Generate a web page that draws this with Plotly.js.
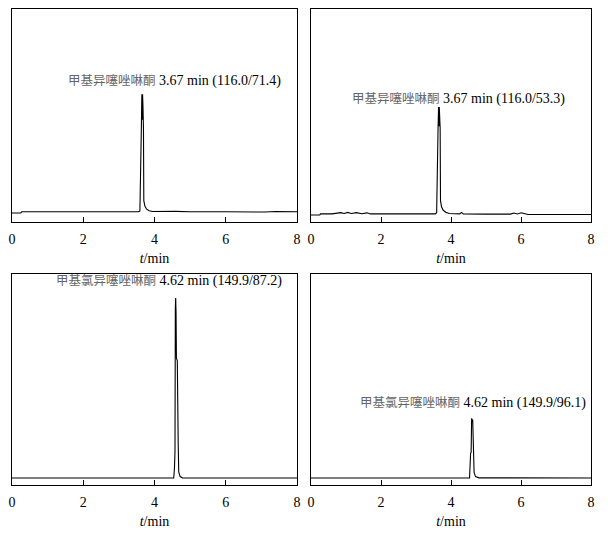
<!DOCTYPE html>
<html>
<head>
<meta charset="utf-8">
<script src="https://cdn.plot.ly/plotly-3.0.1.min.js"></script>
<style>html,body{margin:0;padding:0;background:#fff;}#chart{width:611px;height:535px;}</style>
</head>
<body>
<div id="chart"></div>
<script>
// Panel 1: 甲基异噻唑啉酮 116.0/71.4
const t1 = [0, 0.25, 0.27, 0.8, 1.4, 1.95, 2.0, 2.2, 2.35, 2.5, 2.7, 2.85, 3.0, 3.15, 3.3, 3.45, 3.55, 3.59, 3.61, 3.63, 3.645, 3.655, 3.665, 3.675, 3.69, 3.70, 3.73, 3.78, 3.85, 3.95, 4.2, 4.4, 4.6, 5.0, 5.5, 5.7, 6.0, 6.5, 6.8, 7.1, 7.4, 7.7, 8.0];
const y1 = [4.2, 4.2, 4.8, 4.8, 4.8, 4.8, 5.1, 4.9, 5.1, 4.9, 5.1, 4.9, 5.1, 4.9, 5.1, 4.8, 4.8, 5.2, 42, 43, 60, 48, 60, 55, 44, 10, 7.5, 6.0, 5.3, 4.9, 5.0, 4.8, 5.0, 4.8, 5.0, 4.8, 4.8, 4.7, 4.9, 4.7, 4.9, 4.7, 4.8];

// Panel 2: 甲基异噻唑啉酮 116.0/53.3
const t2 = [0, 0.25, 0.27, 0.6, 0.85, 0.95, 1.05, 1.15, 1.3, 1.45, 1.6, 1.7, 2.5, 3.4, 3.55, 3.59, 3.61, 3.63, 3.645, 3.655, 3.665, 3.675, 3.69, 3.70, 3.73, 3.78, 3.85, 3.95, 4.25, 4.3, 4.35, 5.0, 5.7, 5.8, 5.9, 6.0, 6.1, 6.2, 7.0, 8.0];
const y2 = [3.3, 3.3, 3.8, 3.8, 4.4, 4.0, 4.5, 4.0, 4.4, 3.9, 4.3, 3.8, 3.8, 3.8, 3.8, 4.4, 43, 44, 54, 45, 54, 50, 44, 10, 7.0, 5.5, 4.6, 4.0, 3.8, 4.5, 3.8, 3.7, 3.7, 4.2, 3.8, 4.3, 3.8, 3.5, 3.5, 3.5];

// Panel 3: 甲基氯异噻唑啉酮 149.9/87.2
const t3 = [0, 4.54, 4.56, 4.575, 4.585, 4.595, 4.605, 4.615, 4.64, 4.65, 4.665, 4.68, 4.72, 4.78, 8.0];
const y3 = [3.3, 3.3, 8.0, 15.6, 84, 88.6, 81.5, 60, 59, 22.7, 20, 6.2, 4.0, 3.4, 3.3];

// Panel 4: 甲基氯异噻唑啉酮 149.9/96.1
const t4 = [0, 4.53, 4.56, 4.575, 4.59, 4.605, 4.62, 4.635, 4.66, 4.70, 4.80, 8.0];
const y4 = [3.3, 3.3, 15, 15.5, 31.6, 30, 31, 15, 6.0, 4.0, 3.4, 3.3];

const labels = [
  ['甲基异噻唑啉酮', ' 3.67 min (116.0/71.4)'],
  ['甲基异噻唑啉酮', ' 3.67 min (116.0/53.3)'],
  ['甲基氯异噻唑啉酮', ' 4.62 min (149.9/87.2)'],
  ['甲基氯异噻唑啉酮', ' 4.62 min (149.9/96.1)']
];
const labelPos = [[4.57, 67], [4.2, 58.5], [4.40, 97.2], [4.63, 39.6]];
const xTicks = [0, 2, 4, 6, 8];

const serif = 'Liberation Serif, Times New Roman, serif';
const series = [[t1, y1], [t2, y2], [t3, y3], [t4, y4]];
const axNames = ['', '2', '3', '4'];

const data = series.map((s, i) => ({
  x: s[0], y: s[1], type: 'scatter', mode: 'lines',
  line: {color: '#000', width: 1.1},
  xaxis: 'x' + axNames[i], yaxis: 'y' + axNames[i],
  hoverinfo: 'skip', showlegend: false
}));

const xDom = [[12/611, 297/611], [311/611, 591/611]];
const yDom = [[(535-222)/535, (535-9)/535], [(535-485)/535, (535-274)/535]];

const layout = {
  width: 611, height: 535,
  margin: {l: 0, r: 0, t: 0, b: 0},
  paper_bgcolor: '#fff', plot_bgcolor: '#fff',
  showlegend: false,
  annotations: []
};

for (let i = 0; i < 4; i++) {
  const col = i % 2, row = Math.floor(i / 2);
  const xa = 'xaxis' + axNames[i], ya = 'yaxis' + axNames[i];
  layout[xa] = {
    domain: xDom[col], anchor: 'y' + axNames[i], range: [0, 8],
    tickvals: xTicks, ticktext: xTicks.map(String),
    ticks: 'inside', ticklen: 5, tickcolor: '#000', tickwidth: 1,
    showline: true, linecolor: '#000', linewidth: 1, mirror: true,
    showgrid: false, zeroline: false,
    ticklabelstandoff: 4,
    tickfont: {family: serif, size: 14, color: '#000'},
    title: {text: '<i>t</i>/min', font: {family: serif, size: 14, color: '#000'}, standoff: 7}
  };
  layout[ya] = {
    domain: yDom[row], anchor: 'x' + axNames[i], range: [0, 100],
    showticklabels: false, ticks: '', showgrid: false, zeroline: false,
    showline: true, linecolor: '#000', linewidth: 1, mirror: true
  };
  layout.annotations.push({
    xref: 'x' + axNames[i], yref: 'y' + axNames[i],
    x: labelPos[i][0], y: labelPos[i][1], xanchor: 'center', yanchor: 'middle',
    showarrow: false,
    text: '<span style="font-family:Noto Sans CJK SC;font-size:12.5px;color:#666">' + labels[i][0] + '</span>' + labels[i][1],
    font: {family: serif, size: 14, color: '#000'}
  });
}

Plotly.newPlot('chart', data, layout, {displayModeBar: false, staticPlot: true});
</script>
</body>
</html>
